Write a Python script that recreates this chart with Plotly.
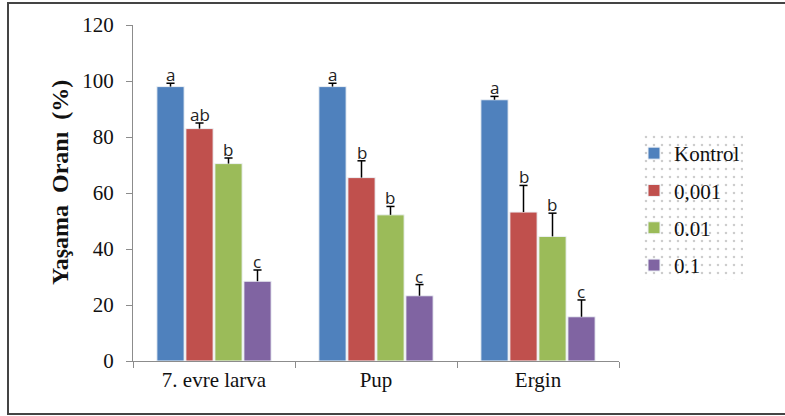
import plotly.graph_objects as go

categories = ["7. evre larva", "Pup", "Ergin"]
series_names = ["Kontrol", "0,001", "0.01", "0.1"]
kontrol = [98, 98, 93.3]
c0001 = [83, 65.5, 53.2]
c001 = [70.5, 52.2, 44.5]
c01 = [28.5, 23.3, 15.8]
err_kontrol = [1.2, 1.2, 1.2]
err_0001 = [2.0, 6.0, 9.5]
err_001 = [2.0, 3.0, 8.3]
err_01 = [4.0, 4.0, 6.0]
letters_kontrol = ["a", "a", "a"]
letters_0001 = ["ab", "b", "b"]
letters_001 = ["b", "b", "b"]
letters_01 = ["c", "c", "c"]

values = [kontrol, c0001, c001, c01]
errors = [err_kontrol, err_0001, err_001, err_01]
letters = [letters_kontrol, letters_0001, letters_001, letters_01]
colors = ["#4F81BD", "#C0504D", "#9BBB59", "#8064A2"]

SERIF = "Times New Roman, Liberation Serif, serif"

W, H = 785, 416
ML, MR, MT, MB = 133, 40, 25, 55
plot_w = W - ML - MR
main_w = 486
main_frac = main_w / plot_w
plot_h = H - MT - MB
BARGAP = 0.284

fig = go.Figure()
for i, name in enumerate(series_names):
    fig.add_trace(go.Bar(
        x=categories, y=values[i], name=name,
        marker=dict(color=colors[i], line=dict(color="#eef2f6", width=1)),
        error_y=dict(type="data", symmetric=False, array=errors[i],
                     arrayminus=[0] * len(categories), color="black",
                     thickness=1.5, width=0),
        legendgroup=name,
    ))

# dotted legend background
fig.add_trace(go.Bar(
    x=[0], y=[1], xaxis="x2", yaxis="y2", width=1, showlegend=False,
    hoverinfo="skip",
    marker=dict(color="white", line=dict(width=0),
                pattern=dict(shape=".", fgcolor="#9a9a9a", bgcolor="white",
                             size=8, solidity=0.08)),
))

slot = (1 - BARGAP) / len(series_names)  # in category units
cap = 0.025
annotations = []
shapes = []
cat_px = main_w / len(categories)
for i in range(len(series_names)):
    off = (i - 1.5) * slot
    for j, c in enumerate(categories):
        top = values[i][j] + errors[i][j]
        shapes.append(dict(type="line", xref="x", yref="y", x0=c, x1=c,
                           x0shift=off - cap, x1shift=off + cap, y0=top, y1=top,
                           line=dict(color="black", width=1.5)))
        annotations.append(dict(
            x=c, y=top, xref="x", yref="y",
            text=letters[i][j], showarrow=False, yanchor="bottom",
            xshift=off * cat_px, yshift=-5,
            font=dict(family="Open Sans", size=17, color="#222")))

annotations.append(dict(
    x=(60 - ML) / plot_w, y=(361 - 183) / plot_h, xref="paper", yref="paper",
    xanchor="center", yanchor="middle",
    text="<b>Yaşama  Oranı  (%)</b>", textangle=-90, showarrow=False,
    font=dict(family=SERIF, size=24, color="#111")))

shapes.append(dict(type="rect", xref="paper", yref="paper",
                   x0=(8 - ML) / plot_w, x1=(800 - ML) / plot_w,
                   y0=(361 - 414) / plot_h, y1=(361 - 3) / plot_h,
                   line=dict(color="#444", width=2), fillcolor="rgba(0,0,0,0)"))

fig.update_layout(
    width=W, height=H,
    margin=dict(l=ML, r=MR, t=MT, b=MB, autoexpand=False),
    paper_bgcolor="white", plot_bgcolor="white",
    barmode="group", bargap=BARGAP, bargroupgap=0.06,
    font=dict(family=SERIF, color="#111"),
    xaxis=dict(domain=[0, main_frac], showline=True, linecolor="#8c8c8c",
               linewidth=1, ticks="outside", tickson="boundaries", ticklen=6,
               tickcolor="#8c8c8c", tickfont=dict(size=21, family=SERIF),
               showgrid=False),
    yaxis=dict(range=[0, 120], dtick=20, showline=True, linecolor="#8c8c8c",
               linewidth=1, ticks="outside", ticklen=6, tickcolor="#8c8c8c",
               tickfont=dict(size=21, family=SERIF),
               showgrid=False, zeroline=False, ticklabelstandoff=8),
    xaxis2=dict(domain=[(642 - ML) / plot_w, (743 - ML) / plot_w], range=[-0.5, 0.5],
                visible=False, anchor="y2", fixedrange=True),
    yaxis2=dict(domain=[(361 - 280) / plot_h, (361 - 133) / plot_h], range=[0, 1],
                visible=False, anchor="x2", fixedrange=True),
    legend=dict(x=(634 - ML) / plot_w, y=(361 - 133) / plot_h, xanchor="left",
                yanchor="top", bgcolor="rgba(0,0,0,0)",
                font=dict(family=SERIF, size=21, color="#111"),
                traceorder="grouped", tracegroupgap=7, itemwidth=30),
    annotations=annotations,
    shapes=shapes,
    showlegend=True,
)

fig.write_html("out.html", config={"displayModeBar": False},
               post_script="document.body.style.margin='0px';")
